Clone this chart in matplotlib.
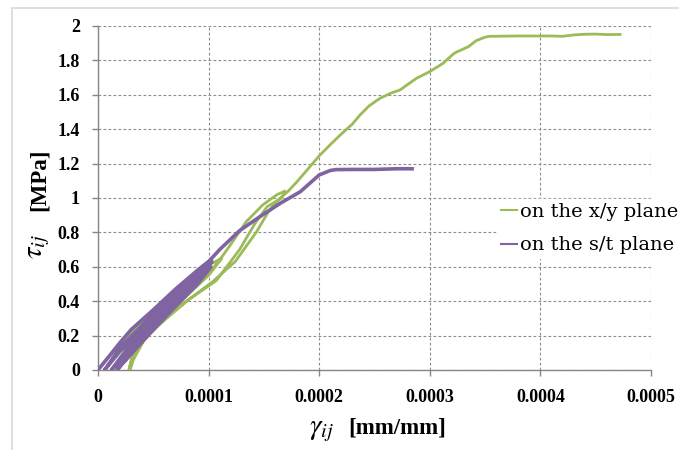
import numpy as np
import matplotlib
matplotlib.use('Agg')
import matplotlib.pyplot as plt
from matplotlib.patches import Rectangle

# strain / stress (x/y plane, with unload-reload loops)
xy_gamma = [0, 0.00001, 0.00002, 0.00004, 0.00006, 0.00008, 0.0001,
            0.00009, 0.00006, 0.00003, 0.000012,
            0.00003, 0.00005, 0.00007, 0.00009, 0.000103, 0.000112,
            0.0001, 0.00008, 0.00006, 0.00004, 0.00003, 0.000028,
            0.000031, 0.000041, 0.00006, 0.00008, 0.0001, 0.00011, 0.00012, 0.000134, 0.000149, 0.000162, 0.000169,
            0.000166, 0.000153, 0.000142, 0.000128, 0.000107, 0.00008, 0.00006, 0.000041, 0.000031, 0.000029,
            0.000032, 0.000043, 0.000062, 0.000082, 0.000103, 0.000124, 0.000143, 0.000155, 0.000165, 0.000172,
            0.00018, 0.00019, 0.0002, 0.00021, 0.000219, 0.00023, 0.000237, 0.000245, 0.000255, 0.000265,
            0.000273, 0.00028, 0.000288, 0.0003, 0.000312, 0.00032, 0.000323, 0.000335, 0.000342, 0.00035,
            0.000354, 0.00038, 0.00041, 0.00042, 0.00043, 0.00044, 0.00045, 0.00046, 0.000472]
xy_tau = [0, 0.075, 0.15, 0.28, 0.40, 0.50, 0.62,
          0.53, 0.34, 0.13, 0,
          0.17, 0.31, 0.45, 0.56, 0.62, 0.65,
          0.55, 0.43, 0.30, 0.16, 0.06, 0,
          0.07, 0.21, 0.33, 0.44, 0.56, 0.64, 0.73, 0.862, 0.96, 1.02, 1.04,
          1.0, 0.95, 0.853, 0.70, 0.52, 0.40, 0.30, 0.20, 0.08, 0,
          0.06, 0.19, 0.30, 0.41, 0.51, 0.63, 0.80, 0.93, 1.0, 1.04,
          1.095, 1.17, 1.245, 1.31, 1.366, 1.43, 1.483, 1.535, 1.58, 1.61,
          1.628, 1.66, 1.696, 1.735, 1.783, 1.83, 1.845, 1.88, 1.915, 1.935,
          1.94, 1.942, 1.942, 1.94, 1.948, 1.952, 1.953, 1.95, 1.951]

# s/t plane
st_gamma = [0, 0.00001, 0.00002, 0.00003, 0.00005, 0.00007, 0.00009, 0.0001,
            0.00008, 0.00006, 0.00004, 0.00002, 0.000006,
            0.00002, 0.00004, 0.00006, 0.00008, 0.0001, 0.000103,
            0.00009, 0.00007, 0.00005, 0.00003, 0.000012,
            0.00003, 0.00005, 0.00007, 0.00009, 0.000102,
            0.00009, 0.00007, 0.000045, 0.000017,
            0.00003, 0.000044, 0.00006, 0.000075, 0.00009, 0.0001, 0.00011, 0.000128, 0.000146, 0.000165,
            0.000183, 0.0002, 0.00021, 0.000215, 0.00023, 0.00025, 0.00026, 0.00027, 0.000284]
st_tau = [0, 0.08, 0.16, 0.235, 0.35, 0.47, 0.58, 0.63,
          0.51, 0.39, 0.26, 0.13, 0,
          0.11, 0.23, 0.36, 0.49, 0.61, 0.63,
          0.53, 0.41, 0.28, 0.15, 0,
          0.12, 0.25, 0.38, 0.51, 0.6,
          0.50, 0.37, 0.20, 0,
          0.10, 0.20, 0.33, 0.45, 0.56, 0.63, 0.70, 0.81, 0.89, 0.97,
          1.037, 1.134, 1.16, 1.165, 1.166, 1.166, 1.168, 1.17, 1.17]

green = '#9BBB59'
purple = '#8064A2'

plt.rcParams['font.family'] = ['Liberation Serif', 'DejaVu Serif']
plt.rcParams['mathtext.fontset'] = 'stix'

fig = plt.figure(figsize=(6.79, 4.5), dpi=100)
ax = fig.add_axes([98/679, 1-370/450, 553/679, 344/450])

# outer chart border (light gray)
fig.patches.append(Rectangle((12/679, -0.2), 1.2, 1.2-8/450, transform=fig.transFigure,
                             fill=False, edgecolor='#D9D9D9', linewidth=1.2, zorder=0))

ax.plot(xy_gamma, xy_tau, color=green, lw=2.0, label='on the x/y plane', zorder=3)
ax.plot(st_gamma, st_tau, color=purple, lw=2.6, label='on the s/t plane', zorder=4)

ax.set_xlim(0, 0.0005)
ax.set_ylim(0, 2)
ax.set_xticks([0, 0.0001, 0.0002, 0.0003, 0.0004, 0.0005])
ax.set_xticklabels(['0', '0.0001', '0.0002', '0.0003', '0.0004', '0.0005'])
ax.set_yticks(np.arange(0, 2.01, 0.2))
ax.set_yticklabels(['0', '0.2', '0.4', '0.6', '0.8', '1', '1.2', '1.4', '1.6', '1.8', '2'])

ax.grid(True, color='#8C8C8C', linestyle=(0, (2.5, 2)), linewidth=0.8)
ax.set_axisbelow(True)
for s in ['top', 'right']:
    ax.spines[s].set_visible(False)
for s in ['left', 'bottom']:
    ax.spines[s].set_color('#868686')
    ax.spines[s].set_linewidth(1.0)
ax.tick_params(direction='out', length=4.5, width=1, color='#868686', labelsize=13)
ax.tick_params(axis='y', pad=8.5)
ax.tick_params(axis='x', pad=9)
for lab in ax.get_xticklabels() + ax.get_yticklabels():
    lab.set_fontweight('bold')

# axis titles: symbol and unit placed separately (symbol is drawn larger)
fig.text(322/679, 1-431/450, r'$\gamma_{ij}$', fontsize=21, ha='center', va='center')
fig.text(397/679, 1-428/450, '[mm/mm]', fontsize=16.5, fontweight='bold', ha='center', va='center')
fig.text(39/679, 1-246/450, r'$\tau_{ij}$', fontsize=21, rotation=90, ha='center', va='center')
fig.text(39/679, 1-180/450, '[MPa]', fontsize=16.5, fontweight='bold', rotation=90,
         ha='center', va='center')

leg = fig.legend(loc='upper left', bbox_to_anchor=(497/679, 1-199/450), frameon=True,
                 prop={'family': 'DejaVu Serif', 'size': 14},
                 handlelength=0.85, handletextpad=0.15, borderpad=0.2,
                 labelspacing=0.8, borderaxespad=0)
leg.get_frame().set_facecolor('white')
leg.get_frame().set_edgecolor('white')
leg.get_frame().set_alpha(1)
for h in leg.get_lines():
    h.set_linewidth(1.5)

fig.savefig('out.png', dpi=100)
